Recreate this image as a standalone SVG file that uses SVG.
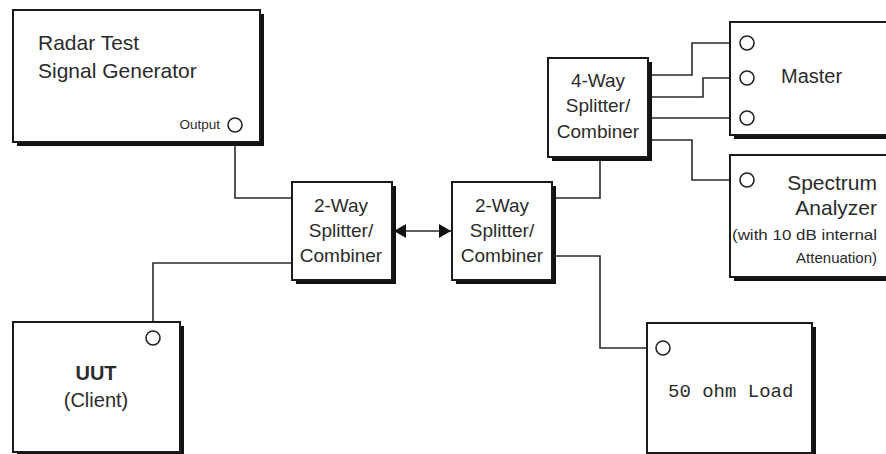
<svg xmlns="http://www.w3.org/2000/svg" width="886" height="454" viewBox="0 0 886 454">
<style>
.box{fill:#fff;stroke:#1a1a1a;stroke-width:2}
.sh{fill:#111}
.port{fill:#fff;stroke:#222;stroke-width:1.6}
.wire{fill:none;stroke:#2a2a2a;stroke-width:1.6}
text{font-family:"Liberation Sans",Arial,sans-serif;fill:#2b2b2b}
.mid{text-anchor:middle;font-size:19px}
.end{text-anchor:end}
</style>
<defs>
<marker id="ah" viewBox="0 0 12 14" refX="12" refY="7" markerWidth="12" markerHeight="14" markerUnits="userSpaceOnUse" orient="auto-start-reverse">
<path d="M0,0 L12,7 L0,14 Z" fill="#111"/>
</marker>
</defs>
<rect width="886" height="454" fill="#fff"/>

<g id="connectors">
<polyline class="wire" points="235,132 235,198 292,198"/>
<polyline class="wire" points="292,263 153,263 153,331"/>
<line class="wire" x1="394" y1="231" x2="451" y2="231" stroke="#111" marker-start="url(#ah)" marker-end="url(#ah)"/>
<polyline class="wire" points="552,198 600,198 600,157"/>
<polyline class="wire" points="552,256 600,256 600,348 656,348"/>
<polyline class="wire" points="648,75 692,75 692,43 740,43"/>
<polyline class="wire" points="648,97 703,97 703,78 740,78"/>
<polyline class="wire" points="648,118 740,118"/>
<polyline class="wire" points="648,140 692,140 692,180 740,180"/>
</g>

<g id="radar-generator">
<rect class="sh" x="17" y="14" width="247" height="132"/>
<rect class="box" x="13" y="10" width="247" height="132"/>
<text x="38" y="50" font-size="21">Radar Test</text>
<text x="38" y="78" font-size="21">Signal Generator</text>
<text x="220" y="129" font-size="13.5" class="end">Output</text>
<circle class="port" cx="235" cy="125" r="7"/>
</g>

<g id="uut">
<rect class="sh" x="17" y="326" width="167" height="130"/>
<rect class="box" x="13" y="322" width="167" height="130"/>
<circle class="port" cx="153" cy="338" r="7"/>
<text x="96" y="380" font-size="20" font-weight="bold" text-anchor="middle">UUT</text>
<text x="96" y="407" font-size="20" text-anchor="middle">(Client)</text>
</g>

<g id="splitter-2way-a">
<rect class="sh" x="296" y="186" width="100" height="98"/>
<rect class="box" x="292" y="182" width="100" height="98"/>
<text class="mid" x="341" y="212">2-Way</text>
<text class="mid" x="341" y="237">Splitter/</text>
<text class="mid" x="341" y="262">Combiner</text>
</g>

<g id="splitter-2way-b">
<rect class="sh" x="456" y="186" width="100" height="98"/>
<rect class="box" x="452" y="182" width="100" height="98"/>
<text class="mid" x="502" y="212">2-Way</text>
<text class="mid" x="502" y="237">Splitter/</text>
<text class="mid" x="502" y="262">Combiner</text>
</g>

<g id="splitter-4way">
<rect class="sh" x="552" y="62" width="100" height="99"/>
<rect class="box" x="548" y="58" width="100" height="99"/>
<text class="mid" x="598" y="87">4-Way</text>
<text class="mid" x="598" y="112">Splitter/</text>
<text class="mid" x="598" y="138">Combiner</text>
</g>

<g id="master">
<rect class="sh" x="734" y="26" width="160" height="113"/>
<rect class="box" x="730" y="22" width="160" height="113"/>
<circle class="port" cx="747" cy="43" r="7"/>
<circle class="port" cx="747" cy="78" r="7"/>
<circle class="port" cx="747" cy="118" r="7"/>
<text x="781" y="83" font-size="20">Master</text>
</g>

<g id="spectrum-analyzer">
<rect class="sh" x="734" y="159" width="160" height="122"/>
<rect class="box" x="730" y="155" width="160" height="122"/>
<circle class="port" cx="747" cy="180" r="7"/>
<text class="end" x="877" y="190" font-size="21">Spectrum</text>
<text class="end" x="877" y="215" font-size="21">Analyzer</text>
<text class="end" x="877" y="240" font-size="15" textLength="145" lengthAdjust="spacingAndGlyphs">(with 10 dB internal</text>
<text class="end" x="877" y="263" font-size="15">Attenuation)</text>
</g>

<g id="load">
<rect class="sh" x="651" y="327" width="165" height="130"/>
<rect class="box" x="647" y="323" width="165" height="130"/>
<circle class="port" cx="663" cy="348" r="7"/>
<text x="668" y="397" font-size="19" style="font-family:'Liberation Mono','Courier New',monospace">50 ohm Load</text>
</g>
</svg>
